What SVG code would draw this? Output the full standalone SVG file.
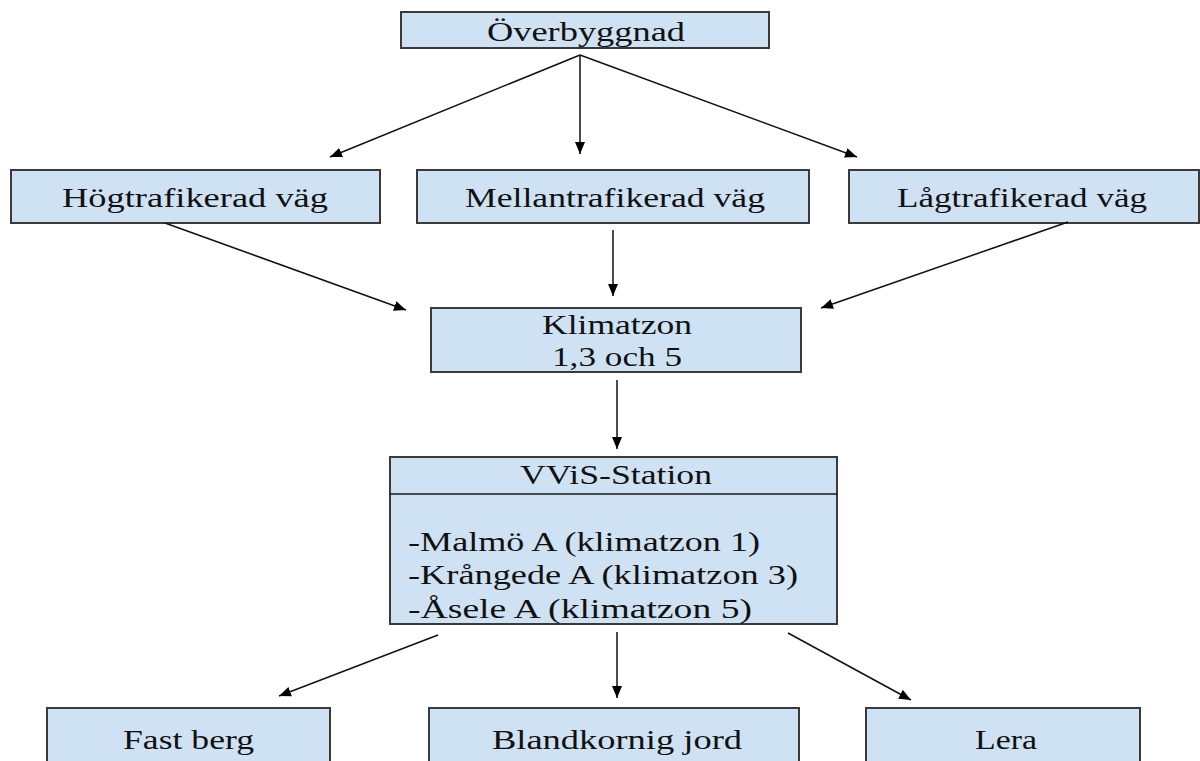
<svg xmlns="http://www.w3.org/2000/svg" width="1200" height="761" viewBox="0 0 1200 761">
<defs>
<marker id="ah" viewBox="0 0 12 10" refX="12" refY="5" markerWidth="12" markerHeight="10" markerUnits="userSpaceOnUse" orient="auto">
<path d="M0,0 L12,5 L0,10 z" fill="#000"/>
</marker>
<style>
.box{fill:#cfe2f3;stroke:#3a3a3a;stroke-width:2}
.t{font-family:"Liberation Serif","Times New Roman",serif;font-size:28px;fill:#111}
.c{stroke:#111;stroke-width:1.5;fill:none;marker-end:url(#ah)}
</style>
</defs>
<rect width="1200" height="761" fill="#fff"/>
<g id="overbyggnad"><rect class="box" x="401" y="12" width="368" height="36"/><text class="t" x="487" y="41" textLength="198" lengthAdjust="spacingAndGlyphs">Överbyggnad</text></g>
<g id="hog"><rect class="box" x="11" y="170" width="369" height="53"/><text class="t" x="62" y="207" textLength="266" lengthAdjust="spacingAndGlyphs">Högtrafikerad väg</text></g>
<g id="mellan"><rect class="box" x="417" y="170" width="392" height="53"/><text class="t" x="465" y="207" textLength="300" lengthAdjust="spacingAndGlyphs">Mellantrafikerad väg</text></g>
<g id="lag"><rect class="box" x="849" y="170" width="350" height="53"/><text class="t" x="897" y="207" textLength="250" lengthAdjust="spacingAndGlyphs">Lågtrafikerad väg</text></g>
<g id="klimatzon"><rect class="box" x="431" y="308" width="370" height="64"/><text class="t" x="542" y="334" textLength="150" lengthAdjust="spacingAndGlyphs">Klimatzon</text><text class="t" x="552" y="366" textLength="130" lengthAdjust="spacingAndGlyphs">1,3 och 5</text></g>
<g id="vvis"><rect class="box" x="390" y="457" width="447" height="167"/><line x1="390" y1="494" x2="837" y2="494" stroke="#1a1a1a" stroke-width="1.5"/><text class="t" x="520" y="484" textLength="192" lengthAdjust="spacingAndGlyphs">VViS-Station</text><text class="t" x="408" y="551" textLength="352" lengthAdjust="spacingAndGlyphs">-Malmö A (klimatzon 1)</text><text class="t" x="408" y="584" textLength="390" lengthAdjust="spacingAndGlyphs">-Krångede A (klimatzon 3)</text><text class="t" x="408" y="618" textLength="344" lengthAdjust="spacingAndGlyphs">-Åsele A (klimatzon 5)</text></g>
<g id="fastberg"><rect class="box" x="47" y="708" width="283" height="70"/><text class="t" x="123" y="749" textLength="131" lengthAdjust="spacingAndGlyphs">Fast berg</text></g>
<g id="blandkornig"><rect class="box" x="429" y="708" width="370" height="70"/><text class="t" x="492" y="749" textLength="250" lengthAdjust="spacingAndGlyphs">Blandkornig jord</text></g>
<g id="lera"><rect class="box" x="866" y="708" width="274" height="70"/><text class="t" x="975" y="749" textLength="62" lengthAdjust="spacingAndGlyphs">Lera</text></g>
<g id="connectors">
<line class="c" x1="580" y1="55" x2="330" y2="157"/>
<line class="c" x1="580" y1="55" x2="580" y2="154"/>
<line class="c" x1="580" y1="55" x2="857" y2="157"/>
<line class="c" x1="165" y1="223" x2="406" y2="310"/>
<line class="c" x1="613" y1="230" x2="613" y2="296"/>
<line class="c" x1="1068" y1="222" x2="821" y2="308"/>
<line class="c" x1="617" y1="380" x2="617" y2="449"/>
<line class="c" x1="438" y1="635" x2="279" y2="696"/>
<line class="c" x1="617" y1="632" x2="617" y2="698"/>
<line class="c" x1="788" y1="633" x2="911" y2="700"/>
</g>
</svg>
